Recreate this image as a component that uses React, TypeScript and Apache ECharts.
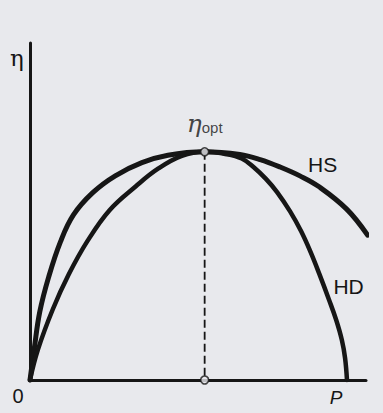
import React, { useEffect, useRef } from "react";
import * as echarts from "echarts";

// Efficiency curve of HS and HD characteristics vs. power P (P_max = 100)
const hsCurve: [number, number][] = [
  [0, 0], [1.3, 9.0], [3.1, 20.3], [5.9, 30.6], [9.6, 41.0], [13.7, 49.0],
  [19.8, 55.6], [26.9, 60.6], [35.3, 64.5], [43.5, 66.7], [55.1, 67.7],
  [66.2, 66.9], [72.6, 65.4], [78.9, 63.2], [85.3, 60.5], [91.1, 57.4],
  [99.9, 50.7], [106.5, 43.0],
];
const hdCurve: [number, number][] = [
  [0, 0], [2.5, 9.0], [7.2, 21.0], [12.2, 31.3], [18.1, 41.2], [25.1, 50.4],
  [33.4, 57.5], [40.4, 62.7], [47.9, 66.5], [55.1, 67.7], [62.0, 67.0],
  [66.8, 65.7], [70.5, 63.2], [74.5, 59.6], [78.0, 55.7], [82.0, 50.1],
  [85.5, 44.2], [88.5, 38.0], [91.3, 31.4], [94.3, 23.9], [96.6, 17.8],
  [98.4, 11.8], [99.4, 6.5], [100, 0],
];
const optimum: [number, number] = [55.1, 67.7];
const xTickValues = [0, 100];
const xTickLabels = ["0", "P"];
const seriesNames = ["HS", "HD"];
const yAxisName = "η";
const optName = ["η", "opt"];

const INK = "#161616";
const BG = "#e8e9ed";

export default function App() {
  const ref = useRef<HTMLDivElement>(null);
  useEffect(() => {
    if (!ref.current) return;
    const chart = echarts.init(ref.current, undefined, { renderer: "svg" });
    const option: any = {
      animation: false,
      backgroundColor: BG,
      grid: { left: 30, top: 43, width: 336, height: 337, outerBoundsMode: "none" },
      xAxis: {
        type: "value",
        min: 0,
        max: 106,
        interval: 100,
        axisLine: { show: true, onZero: false, lineStyle: { color: INK, width: 3 } },
        axisTick: { show: false },
        splitLine: { show: false },
        axisLabel: {
          show: true,
          margin: 6,
          showMaxLabel: false,
          formatter: (v: number) => {
            const i = xTickValues.indexOf(v);
            if (i === 0) return `{o|${xTickLabels[0]}}`;
            if (i === 1) return `{p|${xTickLabels[1]}}`;
            return "";
          },
          rich: {
            o: { fontFamily: "Liberation Sans", fontSize: 20, color: INK, padding: [0, 24, 0, 0] },
            p: { fontFamily: "Liberation Sans", fontSize: 19, fontStyle: "italic", color: INK, padding: [2, 22, 0, 0] },
          },
        },
      },
      yAxis: {
        type: "value",
        min: 0,
        max: 100,
        axisLine: { show: true, onZero: false, lineStyle: { color: INK, width: 3 } },
        axisTick: { show: false },
        axisLabel: { show: false },
        splitLine: { show: false },
      },
      graphic: [
        {
          type: "text",
          x: 17,
          y: 58,
          style: {
            text: yAxisName,
            fontFamily: "DejaVu Serif",
            fontSize: 23,
            fill: INK,
            align: "center",
            verticalAlign: "middle",
          },
        },
      ],
      series: [
        {
          type: "line",
          name: seriesNames[0],
          data: hsCurve,
          smooth: 0.4,
          symbol: "none",
          clip: false,
          z: 3,
          lineStyle: { color: INK, width: 5, cap: "round" },
          markPoint: {
            symbol: "circle",
            symbolSize: 0,
            data: [
              {
                coord: [92.3, 64.0],
                label: {
                  show: true,
                  position: "inside",
                  formatter: seriesNames[0],
                  fontFamily: "Liberation Sans",
                  fontSize: 21,
                  color: INK,
                },
              },
            ],
          },
        },
        {
          type: "line",
          name: seriesNames[1],
          data: hdCurve,
          smooth: 0.4,
          symbol: "none",
          clip: false,
          z: 3,
          lineStyle: { color: INK, width: 4.5, cap: "round" },
          markPoint: {
            symbol: "circle",
            symbolSize: 0,
            data: [
              {
                coord: [100.5, 27.8],
                label: {
                  show: true,
                  position: "inside",
                  formatter: seriesNames[1],
                  fontFamily: "Liberation Sans",
                  fontSize: 21,
                  color: INK,
                },
              },
            ],
          },
        },
        {
          type: "line",
          data: [optimum, [optimum[0], 0]],
          symbol: "none",
          z: 2,
          lineStyle: { color: INK, width: 1.8, type: [8, 4] },
        },
        {
          type: "scatter",
          data: [
            {
              value: optimum,
              label: {
                show: true,
                position: "top",
                distance: 11,
                formatter: `{e|${optName[0]}}{s|${optName[1]}}`,
                rich: {
                  e: {
                    fontFamily: "DejaVu Serif",
                    fontStyle: "italic",
                    fontSize: 25,
                    lineHeight: 28,
                    verticalAlign: "bottom",
                    color: INK,
                  },
                  s: {
                    fontFamily: "Liberation Sans",
                    fontSize: 15,
                    lineHeight: 28,
                    verticalAlign: "bottom",
                    padding: [0, 0, 1, 0],
                    color: INK,
                  },
                },
              },
            },
            [optimum[0], 0],
          ],
          symbol: "circle",
          symbolSize: 8,
          z: 10,
          itemStyle: { color: BG, borderColor: INK, borderWidth: 1.6 },
        },
      ],
    };
    chart.setOption(option);
    return () => chart.dispose();
  }, []);
  return (
    <div
      ref={ref}
      style={{ position: "fixed", left: 0, top: 0, width: 383, height: 413, background: BG }}
    />
  );
}
